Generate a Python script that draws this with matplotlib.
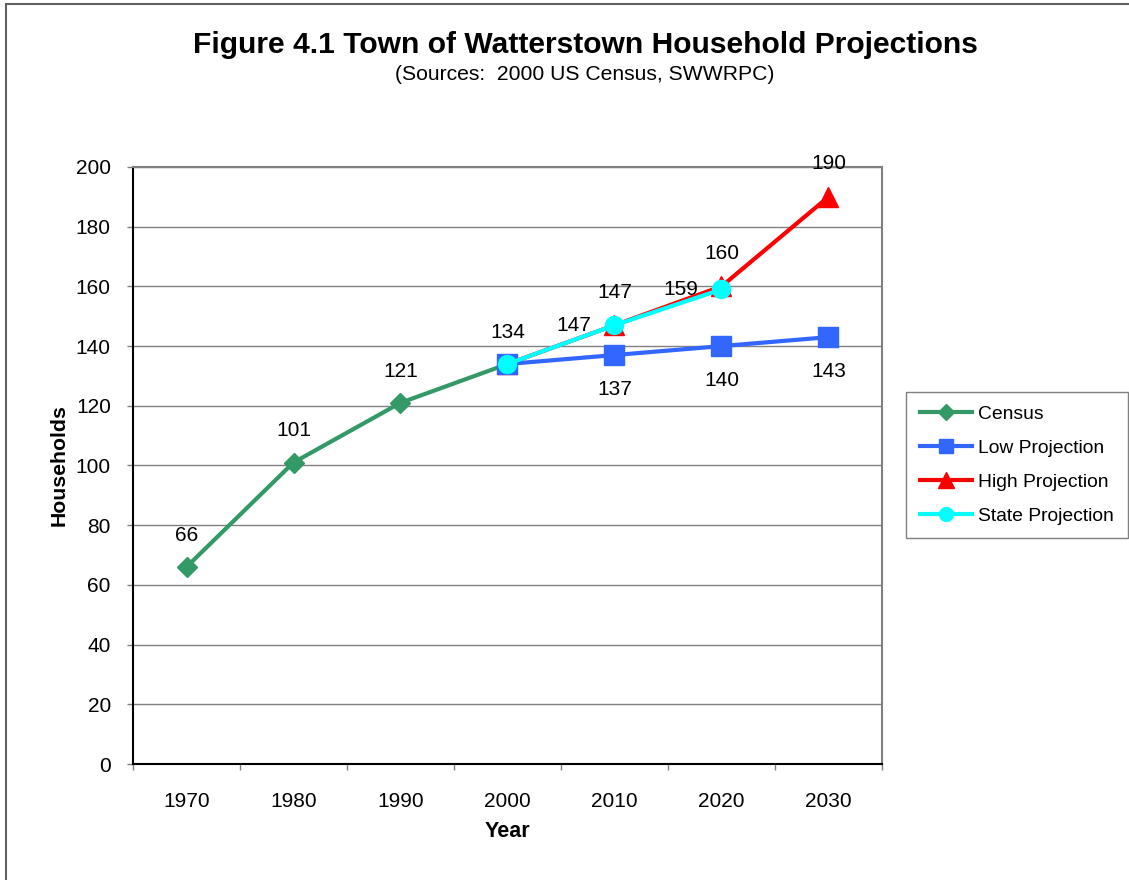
import matplotlib.pyplot as plt
from matplotlib.patches import Rectangle
from matplotlib.lines import Line2D

plt.rcParams['font.family'] = ['Liberation Sans', 'DejaVu Sans']

years = ["1970", "1980", "1990", "2000", "2010", "2020", "2030"]
census = [66, 101, 121, 134]
low_proj = [134, 137, 140, 143]
high_proj = [134, 147, 160, 190]
state_proj = [134, 147, 159]

GREEN = "#339966"
BLUE = "#3366FF"
RED = "#FF0000"
CYAN = "#00FFFF"

fig = plt.figure(figsize=(11.29, 8.8), dpi=100)
fig.patches.append(Rectangle((6 / 1129, -0.1), 1.2, 1.1 - 4 / 880, transform=fig.transFigure,
                             fill=False, edgecolor="#606060", linewidth=1.5))
ax = fig.add_axes([133 / 1129, 1 - 764 / 880, 749 / 1129, 597 / 880])

x_census = list(range(0, 4))
x_proj = list(range(3, 7))
x_state = list(range(3, 6))

ax.plot(x_census, census, color=GREEN, lw=3, marker="D", ms=10, mfc=GREEN, mec=GREEN, zorder=3, label="Census")
ax.plot(x_proj, high_proj, color=RED, lw=3, marker="^", ms=15, mfc=RED, mec=RED, zorder=4, label="High Projection")
ax.plot(x_proj, low_proj, color=BLUE, lw=3, marker="s", ms=14, mfc=BLUE, mec=BLUE, zorder=5, label="Low Projection")
ax.plot(x_state, state_proj, color=CYAN, lw=3, marker="o", ms=13, mfc=CYAN, mec=CYAN, zorder=6, label="State Projection")

fs = 15
# data labels
for x, v in zip(x_census, census):
    ax.annotate(str(v), (x, v), xytext=(0, 16), textcoords="offset points", ha="center", va="bottom", fontsize=fs)
for x, v in zip(x_proj[1:], low_proj[1:]):
    ax.annotate(str(v), (x, v), xytext=(0, -18), textcoords="offset points", ha="center", va="top", fontsize=fs)
for x, v in zip(x_proj[1:], high_proj[1:]):
    ax.annotate(str(v), (x, v), xytext=(0, 17), textcoords="offset points", ha="center", va="bottom", fontsize=fs)
for x, v in zip(x_state[1:], state_proj[1:]):
    ax.annotate(str(v), (x, v), xytext=(-17, 0), textcoords="offset points", ha="right", va="center", fontsize=fs)

ax.set_xlim(-0.5, 6.5)
ax.set_ylim(0, 200)
ax.set_yticks(range(0, 201, 20))
ax.set_xticks(range(7))
ax.set_xticklabels(years)
ax.set_xticks([i - 0.5 for i in range(8)], minor=True)
ax.tick_params(axis="x", which="major", length=0, pad=20, labelsize=fs)
ax.tick_params(axis="x", which="minor", length=4, width=1, color="#808080")
ax.tick_params(axis="y", length=4, width=1, color="#808080", labelsize=fs, pad=12)
ax.grid(axis="y", color="#808080", lw=1)
ax.set_axisbelow(True)
for side in ("top", "right"):
    ax.spines[side].set_color("#808080")
    ax.spines[side].set_linewidth(1.5)
for side in ("left", "bottom"):
    ax.spines[side].set_color("black")
    ax.spines[side].set_linewidth(1.5)

ax.set_xlabel("Year", fontsize=15.5, fontweight="bold", labelpad=7)
ax.set_ylabel("Households", fontsize=15.3, fontweight="bold", labelpad=5)

fig.text(585 / 1129, 1 - 45 / 880, "Figure 4.1 Town of Watterstown Household Projections",
         ha="center", va="center", fontsize=21.6, fontweight="bold")
fig.text(585 / 1129, 1 - 75 / 880, "(Sources:  2000 US Census, SWWRPC)",
         ha="center", va="center", fontsize=15.2)

handles = [
    Line2D([], [], color=GREEN, lw=3, marker="D", ms=8),
    Line2D([], [], color=BLUE, lw=3, marker="s", ms=10),
    Line2D([], [], color=RED, lw=3, marker="^", ms=11),
    Line2D([], [], color=CYAN, lw=3, marker="o", ms=10),
]
fig.legend(handles, ["Census", "Low Projection", "High Projection", "State Projection"],
           loc="upper left", bbox_to_anchor=(906 / 1129, 1 - 392 / 880),
           fontsize=13.9, frameon=True, fancybox=False, edgecolor="#606060",
           handlelength=2.7, labelspacing=0.85, borderpad=0.7, handletextpad=0.35, borderaxespad=0)

fig.savefig("out.png", dpi=100)
